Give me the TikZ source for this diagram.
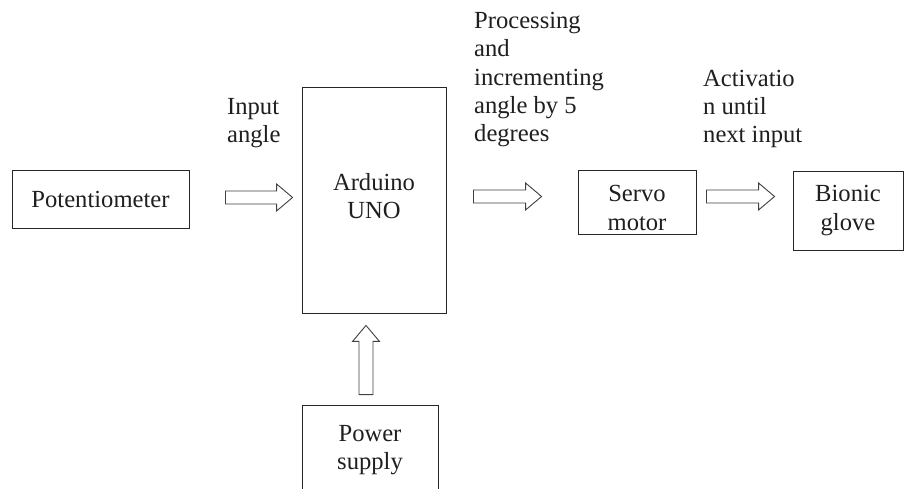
\documentclass[tikz,border=0pt]{standalone}
\usepackage{fontspec}
\setmainfont{Liberation Serif}
\usetikzlibrary{calc}
\tikzset{
  x=1pt, y=1pt,
  txt/.style={font=\fontsize{24.6}{28.4}\selectfont, text=black!88, inner sep=0pt},
  box/.style={draw=black!85, line width=0.9pt, txt, align=center},
  lbl/.style={txt, align=left, anchor=base west},
  barrow/.style={draw=black!75, line width=0.9pt, line join=miter, fill=white}
}
\newcommand\harrow[2]{\draw[barrow] ($(#1)+(0,6.5)$) -- ($(#2)+(-16,6.5)$) -- ($(#2)+(-16,13.5)$) -- (#2) -- ($(#2)+(-16,-13.5)$) -- ($(#2)+(-16,-6.5)$) -- ($(#1)+(0,-6.5)$) -- cycle;}
\newcommand\uarrow[2]{\draw[barrow] ($(#1)+(-7,0)$) -- ($(#2)+(-7,-16)$) -- ($(#2)+(-13.5,-16)$) -- (#2) -- ($(#2)+(13.5,-16)$) -- ($(#2)+(7,-16)$) -- ($(#1)+(7,0)$) -- cycle;}
\begin{document}
\begin{tikzpicture}
\useasboundingbox[fill=white] (0,0) rectangle (914,-489);
\node[box, minimum width=177, minimum height=58] (pot) at (100.5,-199) {Potentiometer};
\node[box, minimum width=144, minimum height=226] (ard) at (374,-200) {Arduino\\UNO\rule[-8pt]{0pt}{0pt}};
\node[box, minimum width=118, minimum height=64] (servo) at (637,-202) {\rule{0pt}{28pt}Servo\\motor};
\node[box, minimum width=110, minimum height=79] (glove) at (848,-210.5) {Bionic\\glove};
\begin{scope}
\clip (0,0) rectangle (914,-489);
\node[box, minimum width=136, minimum height=90] (power) at (370,-450) {Power\\supply};
\end{scope}
\node[lbl] (l1) at (227,-143) {Input\\angle};
\node[lbl] (l2) at (474,-142) {Processing\\and\\incrementing\\angle by 5\\degrees};
\node[lbl] (l3) at (703,-143) {Activatio\\n until\\next input};
% block arrows
\path ([xshift=36,yshift=1.5]pot.east) coordinate (a1s);
\path (a1s -| ard.west) ++(-9,0) coordinate (a1e);
\path ([xshift=27,yshift=3.5]ard.east) coordinate (a2s);
\path (a2s -| servo.west) ++(-36,0) coordinate (a2e);
\path ([xshift=10,yshift=5.5]servo.east) coordinate (a3s);
\path (a3s -| glove.west) ++(-18,0) coordinate (a3e);
\path ([xshift=-4,yshift=10]power.north) coordinate (a4s);
\path (a4s |- ard.south) ++(0,-12) coordinate (a4e);
\harrow{a1s}{a1e}
\harrow{a2s}{a2e}
\harrow{a3s}{a3e}
\uarrow{a4s}{a4e}
\end{tikzpicture}
\end{document}
